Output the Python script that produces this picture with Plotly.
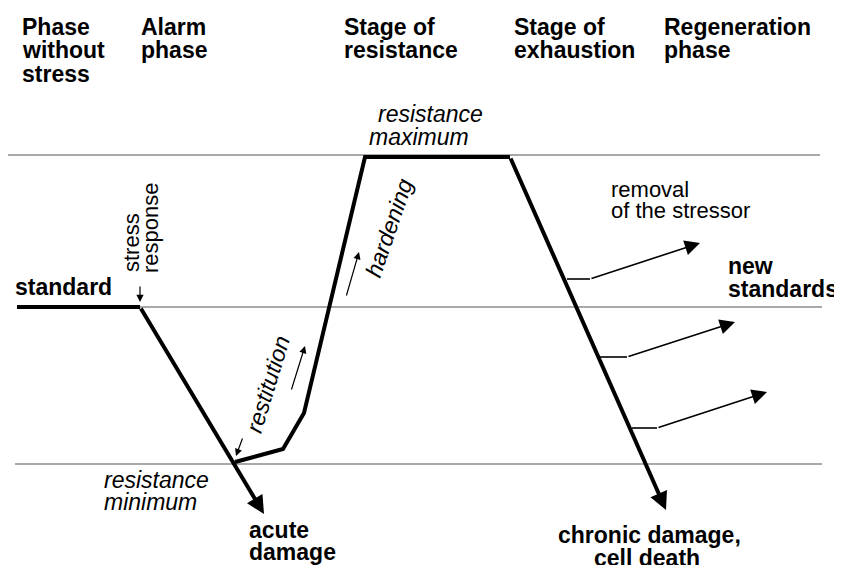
import plotly.graph_objects as go

W, H = 842, 565
OFF = 8  # page body margin of the written html

# ---- reference (thin) lines: x start, x end, y level ----
ref_x0 = [8, 140, 15]
ref_x1 = [820, 822, 822]
ref_y = [155, 307, 464]

# ---- main thick curve ----
standard_x = [17, 140]
standard_y = [307, 307]
recovery_x = [235, 283, 304, 365, 510]
recovery_y = [462, 449, 413, 157, 157]
# thick arrows (tail -> tip)
thick_tail_x = [140, 510]
thick_tail_y = [307, 157]
thick_tip_x = [264, 666]
thick_tip_y = [514, 510]

# ---- branches (removal of stressor) ----
branch_start_x = [567, 600, 632]
branch_start_y = [279, 357, 428]
branch_knee_x = [590, 627, 657]
branch_tip_x = [700, 735, 767]
branch_tip_y = [243, 322, 392]

# ---- small arrows ----
small_tail_x = [140, 243, 291, 346]
small_tail_y = [285, 437, 391, 297]
small_tip_x = [140, 236, 305, 359]
small_tip_y = [302, 456, 346, 252]

# ---- text labels ----
FONT = "Liberation Sans, Arial, Helvetica, sans-serif"
# (text, x, baseline, size, style, anchor)
labels = [
    ("Phase", 21, 35, 23, "b", "left"),
    ("without", 21, 58, 23, "b", "left"),
    ("stress", 21, 82, 23, "b", "left"),
    ("Alarm", 140, 35, 23, "b", "left"),
    ("phase", 140, 58, 23, "b", "left"),
    ("Stage of", 343, 35, 23, "b", "left"),
    ("resistance", 343, 58, 23, "b", "left"),
    ("Stage of", 513, 35, 23, "b", "left"),
    ("exhaustion", 513, 58, 23, "b", "left"),
    ("Regeneration", 663, 35, 23, "b", "left"),
    ("phase", 663, 58, 23, "b", "left"),
    ("resistance", 377, 122, 23, "i", "left"),
    ("maximum", 368, 145, 23, "i", "left"),
    ("resistance", 103, 488, 23, "i", "left"),
    ("minimum", 103, 510, 23, "i", "left"),
    ("removal", 610, 197, 22, "r", "left"),
    ("of the stressor", 610, 218, 22, "r", "left"),
    ("standard", 14, 295, 23, "b", "left"),
    ("new", 727, 274, 23, "b", "left"),
    ("standards", 727, 297, 23, "b", "left"),
    ("acute", 248, 538, 23, "b", "left"),
    ("damage", 248, 560, 23, "b", "left"),
    ("chronic damage,", 649, 543, 23, "b", "center"),
    ("cell death", 647, 566, 23, "b", "center"),
]
# rotated labels: (text, center x, center y, size, style, angle)
rot_labels = [
    ("stress", 131, 243, 22, "r", -90),
    ("response", 150, 228, 22, "r", -90),
    ("hardening", 389, 228, 23, "i", -71),
    ("restitution", 268, 384, 23, "i", -73),
]

fig = go.Figure()

# thin reference lines
for x0, x1, y in zip(ref_x0, ref_x1, ref_y):
    fig.add_trace(go.Scatter(x=[x0, x1], y=[y, y], mode="lines",
                             line=dict(color="#555555", width=1.2),
                             hoverinfo="skip", showlegend=False))

# thick curve pieces
fig.add_trace(go.Scatter(x=standard_x, y=standard_y, mode="lines",
                         line=dict(color="black", width=4),
                         hoverinfo="skip", showlegend=False))
fig.add_trace(go.Scatter(x=recovery_x, y=recovery_y, mode="lines",
                         line=dict(color="black", width=4),
                         hoverinfo="skip", showlegend=False))

# branch horizontal stubs
for sx, sy, kx in zip(branch_start_x, branch_start_y, branch_knee_x):
    fig.add_trace(go.Scatter(x=[sx, kx], y=[sy, sy], mode="lines",
                             line=dict(color="black", width=1.6),
                             hoverinfo="skip", showlegend=False))

annotations = []
def arrow(tx, ty, hx, hy, width, size):
    annotations.append(dict(
        x=hx, y=hy, ax=tx, ay=ty, xref="x", yref="y", axref="x", ayref="y",
        text="", showarrow=True, arrowhead=2, arrowsize=size,
        arrowwidth=width, arrowcolor="black", standoff=0, startstandoff=0))

for tx, ty, hx, hy in zip(thick_tail_x, thick_tail_y, thick_tip_x, thick_tip_y):
    arrow(tx, ty, hx, hy, 4, 0.9)
for kx, sy, hx, hy in zip(branch_knee_x, branch_start_y, branch_tip_x, branch_tip_y):
    arrow(kx, sy, hx, hy, 1.6, 1.9)
for tx, ty, hx, hy in zip(small_tail_x, small_tail_y, small_tip_x, small_tip_y):
    arrow(tx, ty, hx, hy, 1.2, 1.2)

def style_text(t, st):
    if st == "b":
        return "<b>%s</b>" % t
    if st == "i":
        return "<i>%s</i>" % t
    return t

for t, x, base, size, st, anc in labels:
    annotations.append(dict(
        x=x, y=base - 0.35 * size, xref="x", yref="y", text=style_text(t, st),
        showarrow=False, xanchor=anc, yanchor="middle",
        font=dict(family=FONT, size=size, color="black"), borderpad=0))

for t, x, y, size, st, ang in rot_labels:
    annotations.append(dict(
        x=x, y=y, xref="x", yref="y", text=style_text(t, st),
        showarrow=False, xanchor="center", yanchor="middle", textangle=ang,
        font=dict(family=FONT, size=size, color="black"), borderpad=0))

fig.update_layout(
    width=W, height=H,
    margin=dict(l=0, r=0, t=0, b=0),
    paper_bgcolor="white", plot_bgcolor="white",
    xaxis=dict(range=[OFF, W + OFF], visible=False, fixedrange=True),
    yaxis=dict(range=[H + OFF, OFF], visible=False, fixedrange=True),
    annotations=annotations,
    showlegend=False,
)

fig.write_html("out.html")
